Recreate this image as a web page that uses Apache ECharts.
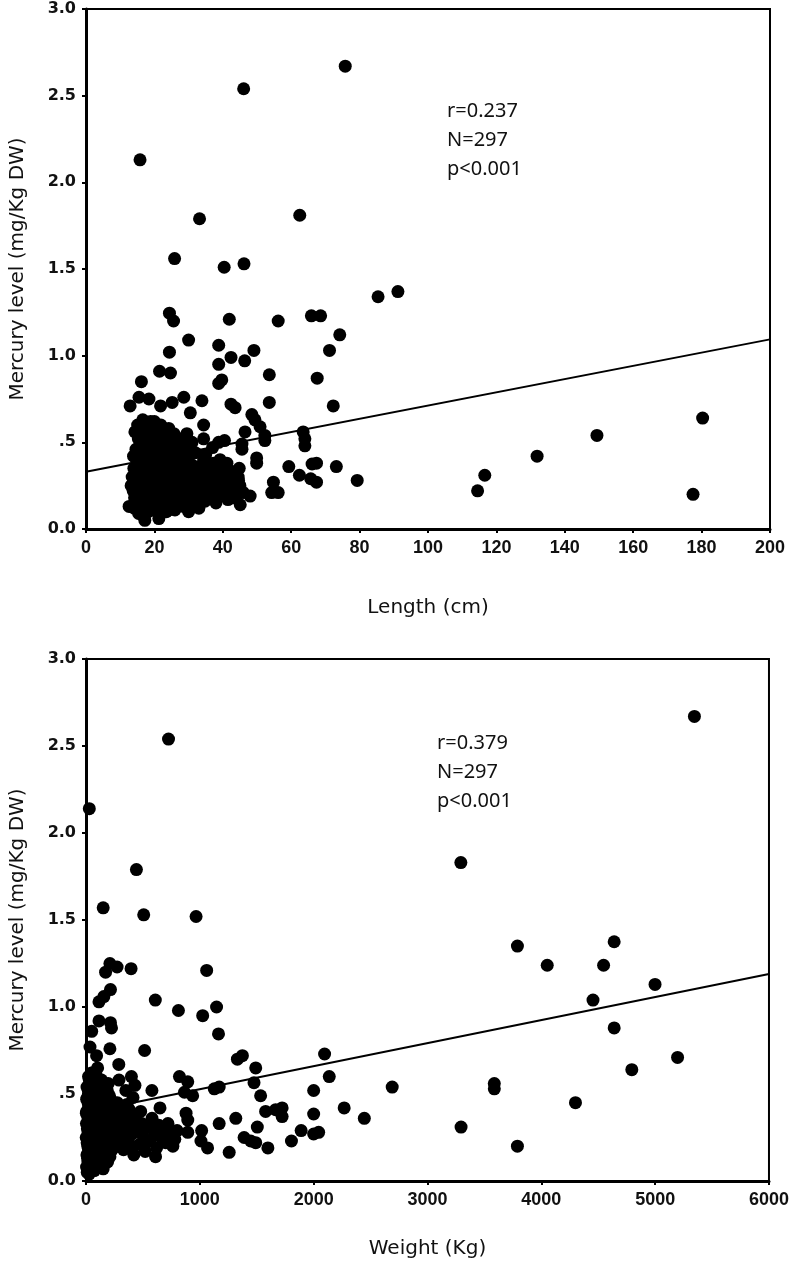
<!DOCTYPE html>
<html>
<head>
<meta charset="utf-8">
<script src="https://cdn.jsdelivr.net/npm/echarts@6/dist/echarts.min.js"></script>
<style>
html,body{margin:0;padding:0;background:#fff;}
#chart{width:792px;height:1273px;}
</style>
</head>
<body>
<div id="chart"></div>
<script>
// ---------- DATA ----------
const lengthTicks = [0, 20, 40, 60, 80, 100, 120, 140, 160, 180, 200];
const weightTicks = [0, 1000, 2000, 3000, 4000, 5000, 6000];
const hgTicks = ['0.0', '.5', '1.0', '1.5', '2.0', '2.5', '3.0'];

// Length (cm) vs Mercury (mg/Kg DW) — readable scattered points
const lengthScatter = [
  [75.8,2.67],[46.1,2.54],[15.8,2.13],[33.2,1.79],[62.5,1.81],[25.9,1.56],[40.4,1.51],[46.2,1.53],
  [24.4,1.245],[25.6,1.20],[41.9,1.21],[56.2,1.20],[65.9,1.23],[68.6,1.23],[74.2,1.12],[30.0,1.09],
  [24.4,1.02],[38.8,1.06],[42.4,0.99],[49.1,1.03],[46.4,0.97],[38.8,0.95],[71.2,1.03],[21.5,0.91],
  [24.7,0.90],[91.2,1.37],[85.4,1.34],[180.3,0.64],[149.4,0.54],[131.9,0.42],[116.6,0.31],[114.5,0.22],
  [177.5,0.20],[72.3,0.71],[73.2,0.36],[79.3,0.28],[53.6,0.89],[67.6,0.87],[16.2,0.85],[39.7,0.86],
  [38.8,0.84],[12.9,0.71],[15.5,0.76],[18.4,0.75],[21.8,0.71],[25.2,0.73],[28.6,0.76],[33.9,0.74],
  [30.5,0.67],[42.4,0.72],[43.6,0.70],[53.6,0.73],[48.5,0.66],[49.4,0.63],[50.9,0.59],[34.4,0.60],
  [46.5,0.56],[52.3,0.54],[52.3,0.51],[63.5,0.56],[64.0,0.52],[64.0,0.48],[29.5,0.55],[34.4,0.52],
  [38.8,0.50],[40.5,0.51],[45.6,0.46],[45.6,0.49],[30.0,0.47],[49.9,0.41],[49.9,0.38],[59.3,0.36],
  [66.1,0.375],[67.4,0.38],[65.7,0.29],[67.4,0.27],[62.4,0.31],[54.8,0.27],[54.3,0.21],[56.2,0.21],
  [45.1,0.14],[48.0,0.19],[46.0,0.21],[44.6,0.28],[43.6,0.31],[17.2,0.05],[21.3,0.06],[12.6,0.13],
  [24.2,0.11]
];
// Length — dense cluster (estimated)
const lengthCluster = [
  [13.5,0.30],[13.8,0.22],[14.0,0.35],[14.2,0.18],[14.5,0.27],[14.8,0.40],[15.0,0.14],[15.2,0.32],
  [15.5,0.24],[15.6,0.45],[15.8,0.55],[16.0,0.20],[16.1,0.38],[16.3,0.29],[16.5,0.50],[16.7,0.16],
  [16.9,0.34],[17.0,0.26],[17.2,0.43],[17.4,0.60],[17.5,0.12],[17.7,0.31],[17.9,0.21],[18.0,0.48],
  [18.1,0.37],[18.3,0.27],[18.5,0.56],[18.6,0.18],[18.8,0.41],[19.0,0.33],[19.1,0.24],[19.3,0.52],
  [19.5,0.14],[19.6,0.45],[19.8,0.29],[20.0,0.38],[20.1,0.20],[20.3,0.58],[20.5,0.31],[20.6,0.47],
  [20.8,0.25],[21.0,0.16],[21.1,0.42],[21.3,0.35],[21.5,0.53],[21.6,0.22],[21.8,0.30],[22.0,0.44],
  [22.2,0.12],[22.3,0.27],[22.5,0.37],[22.7,0.50],[22.9,0.19],[23.0,0.33],[23.2,0.41],[23.4,0.24],
  [23.6,0.55],[23.8,0.29],[24.0,0.15],[24.1,0.46],[24.3,0.36],[24.5,0.21],[24.7,0.52],[24.9,0.31],
  [14.1,0.12],[14.6,0.46],[15.3,0.52],[15.9,0.09],[16.4,0.42],[17.1,0.08],[17.8,0.53],[18.2,0.10],
  [18.9,0.62],[19.4,0.39],[19.9,0.11],[20.4,0.26],[20.9,0.55],[21.4,0.09],[21.9,0.60],[22.4,0.32],
  [22.8,0.15],[23.3,0.48],[23.9,0.38],[24.4,0.27],[15.1,0.60],[16.6,0.63],[17.6,0.36],[18.4,0.44],
  [19.2,0.20],[20.2,0.34],[21.2,0.28],[22.1,0.23],[23.1,0.17],[24.6,0.43],[13.9,0.42],[14.9,0.31],
  [16.2,0.25],[17.3,0.19],[18.7,0.30],[19.7,0.57],[20.7,0.40],[21.7,0.49],[22.6,0.58],[23.7,0.34],
  [25.2,0.40],[25.5,0.18],[25.8,0.28],[26.1,0.47],[26.4,0.34],[26.8,0.22],[27.0,0.14],[27.3,0.38],
  [27.6,0.30],[28.0,0.45],[28.3,0.20],[28.7,0.26],[29.0,0.35],[29.4,0.17],[29.8,0.42],[30.2,0.29],
  [30.5,0.23],[30.9,0.37],[31.3,0.15],[31.7,0.32],[32.0,0.44],[32.4,0.25],[32.8,0.19],[33.2,0.36],
  [33.6,0.28],[34.0,0.22],[34.4,0.40],[34.8,0.16],[35.2,0.31],[35.6,0.26],[36.0,0.35],[36.4,0.18],
  [36.8,0.29],[37.2,0.38],[37.6,0.22],[38.0,0.15],[38.5,0.33],[39.0,0.27],[39.5,0.20],[40.0,0.36],
  [40.5,0.24],[41.0,0.30],[41.5,0.17],[42.0,0.28],[42.5,0.22],[43.0,0.33],[43.5,0.26],[44.0,0.19],
  [44.5,0.30],[45.0,0.25],[26.0,0.11],[28.5,0.13],[31.0,0.50],[33.0,0.12],[35.0,0.43],[37.0,0.47],
  [39.2,0.40],[41.2,0.38],[27.8,0.52],[30.0,0.10],
  [14.3,0.56],[15.4,0.09],[16.8,0.47],[17.9,0.14],[19.0,0.46],[20.0,0.62],[20.6,0.13],[21.6,0.39],
  [22.9,0.43],[23.5,0.10],[24.2,0.58],[25.0,0.35],[25.7,0.55],[26.6,0.42],[27.2,0.25],[28.1,0.33],
  [29.2,0.24],[29.6,0.30],[31.5,0.27],[32.6,0.34],[33.9,0.31],[34.6,0.28],[35.8,0.21],[36.6,0.24],
  [37.9,0.30],[38.8,0.20],[40.3,0.29],[41.8,0.25],[43.2,0.18],[44.8,0.35],[13.2,0.25],[14.7,0.20],
  [16.0,0.33],[17.5,0.28],[18.6,0.36],[19.6,0.25],[20.5,0.44],[21.2,0.19],[22.3,0.53],[23.2,0.28],
  [24.8,0.19],[26.3,0.30],[28.9,0.40],[31.9,0.20]
];
const lengthFit = [[0,0.33],[200,1.094]];

// Weight (Kg) vs Mercury — readable scattered points
const weightScatter = [
  [725,2.54],[29,2.14],[443,1.79],[151,1.57],[507,1.53],[967,1.52],[5345,2.67],[3293,1.83],
  [210,1.25],[172,1.20],[273,1.23],[396,1.22],[1060,1.21],[215,1.10],[157,1.06],[114,1.03],
  [609,1.04],[812,0.98],[1025,0.95],[1147,1.00],[114,0.92],[215,0.91],[50,0.86],[224,0.88],
  [1164,0.845],[515,0.75],[35,0.77],[93,0.72],[210,0.76],[1330,0.70],[1374,0.72],[2096,0.73],
  [1491,0.65],[288,0.67],[102,0.65],[399,0.60],[821,0.60],[894,0.57],[2137,0.60],[1476,0.565],
  [1127,0.53],[1170,0.54],[2690,0.54],[579,0.52],[2000,0.52],[865,0.51],[937,0.49],[413,0.48],
  [1534,0.49],[2268,0.42],[1666,0.41],[1723,0.42],[1723,0.37],[1578,0.40],[1316,0.36],[879,0.39],
  [894,0.35],[2000,0.385],[2445,0.36],[1505,0.31],[894,0.28],[1016,0.29],[1170,0.33],[1890,0.29],
  [2000,0.27],[2044,0.28],[1805,0.23],[1389,0.25],[1447,0.23],[1491,0.22],[1598,0.19],[1010,0.23],
  [1068,0.19],[1258,0.165],[763,0.20],[611,0.14],[151,0.07],[58,0.06],[3790,1.35],[4640,1.375],
  [4052,1.24],[4547,1.24],[4999,1.13],[4454,1.04],[4640,0.88],[5197,0.71],[4795,0.64],[3587,0.56],
  [3587,0.53],[4300,0.45],[3295,0.31],[3790,0.20]
];
// Weight — dense cluster near the axis (estimated)
const weightCluster = [
  [260,0.42],[280,0.33],[300,0.25],[310,0.38],[330,0.18],[345,0.30],[360,0.44],[375,0.22],
  [390,0.34],[405,0.27],[420,0.15],[440,0.38],[455,0.29],[470,0.21],[490,0.33],[505,0.25],
  [520,0.17],[540,0.31],[560,0.23],[580,0.36],[600,0.28],[620,0.19],[640,0.32],[660,0.25],
  [680,0.30],[700,0.22],[720,0.33],[740,0.27],[780,0.24],[800,0.29],[350,0.52],[430,0.55],
  [290,0.58],[480,0.40],[650,0.42],
  [5,0.08],[8,0.15],[10,0.22],[12,0.30],[15,0.37],[18,0.45],[20,0.52],[22,0.60],[25,0.12],
  [27,0.19],[30,0.26],[32,0.34],[35,0.41],[37,0.49],[40,0.56],[42,0.10],[45,0.17],[47,0.24],
  [49,0.31],[3,0.39],[6,0.47],[9,0.54],[11,0.05],[14,0.13],[16,0.20],[19,0.28],[21,0.35],
  [24,0.43],[26,0.50],[29,0.58],[31,0.07],[34,0.14],[36,0.21],[39,0.29],[41,0.36],[44,0.44],
  [46,0.51],[48,0.62],[2,0.25],[4,0.33],[7,0.40],[13,0.48],[17,0.11],[23,0.18],[28,0.04],
  [52,0.09],[54,0.16],[56,0.23],[58,0.31],[60,0.38],[62,0.46],[64,0.53],[66,0.12],[68,0.20],
  [70,0.27],[72,0.35],[74,0.42],[76,0.50],[78,0.57],[80,0.08],[82,0.15],[84,0.22],[86,0.30],
  [88,0.37],[90,0.45],[92,0.52],[94,0.60],[96,0.11],[98,0.18],[53,0.26],[57,0.33],[61,0.41],
  [65,0.48],[69,0.55],[73,0.06],[77,0.14],[81,0.21],[85,0.28],[89,0.36],[93,0.43],[97,0.25],
  [55,0.62],[63,0.19],[79,0.32],[91,0.29],
  [102,0.10],[105,0.17],[108,0.24],[110,0.32],[113,0.39],[116,0.47],[118,0.54],[121,0.13],
  [124,0.20],[126,0.28],[129,0.35],[132,0.43],[134,0.50],[137,0.58],[140,0.09],[142,0.16],
  [145,0.23],[148,0.31],[150,0.38],[153,0.46],[156,0.53],[158,0.12],[161,0.19],[164,0.27],
  [166,0.34],[169,0.42],[103,0.36],[107,0.44],[112,0.51],[115,0.14],[120,0.21],[125,0.29],
  [130,0.26],[135,0.33],[139,0.40],[144,0.48],[149,0.15],[154,0.22],[160,0.37],[167,0.25],
  [172,0.15],[175,0.22],[178,0.30],[181,0.37],[184,0.45],[187,0.52],[190,0.11],[193,0.19],
  [196,0.26],[199,0.34],[202,0.41],[206,0.49],[210,0.14],[214,0.21],[218,0.29],[222,0.36],
  [226,0.44],[230,0.18],[234,0.25],[238,0.33],[242,0.40],[246,0.23],[250,0.31],[176,0.40],
  [185,0.27],[195,0.56],[205,0.33],[215,0.47],[228,0.28],[240,0.20],
  [255,0.36],[265,0.28],[275,0.45],[285,0.20],[295,0.38],[305,0.31],[315,0.26],[325,0.40],
  [335,0.23],[355,0.36],[365,0.28],[380,0.41],[395,0.19],[410,0.35],[425,0.30]
];
const weightFit = [[0,0.395],[6000,1.19]];

const statsLength = ['r=0.237', 'N=297', 'p<0.001'];
const statsWeight = ['r=0.379', 'N=297', 'p<0.001'];

// ---------- CHART ----------
const chart = echarts.init(document.getElementById('chart'), null, {renderer: 'canvas'});

function yAxisCfg(gridIndex) {
  return {
    gridIndex: gridIndex, type: 'value', min: 0, max: 3, interval: 0.5,
    name: 'Mercury level (mg/Kg DW)', nameLocation: 'middle', nameGap: 58,
    nameTextStyle: {fontFamily: 'DejaVu Sans', fontSize: 20, color: '#111'},
    axisLine: {show: true, lineStyle: {color: '#000', width: 3}},
    axisTick: {show: true, length: 4, lineStyle: {color: '#000', width: 2}},
    axisLabel: {
      margin: 10, fontFamily: 'DejaVu Sans', fontWeight: 'bold', fontSize: 16, color: '#111',
      formatter: v => hgTicks[Math.round(v / 0.5)]
    },
    splitLine: {show: false}
  };
}
function xAxisCfg(gridIndex, max, interval, ticks, name, gap) {
  return {
    gridIndex: gridIndex, type: 'value', min: 0, max: max, interval: interval,
    name: name, nameLocation: 'middle', nameGap: gap,
    nameTextStyle: {fontFamily: 'DejaVu Sans', fontSize: 20, color: '#111', verticalAlign: 'top'},
    axisLine: {show: true, lineStyle: {color: '#000', width: 3}},
    axisTick: {show: true, length: 4, lineStyle: {color: '#000', width: 2}},
    axisLabel: {
      margin: 10, fontFamily: 'Liberation Sans', fontWeight: 'bold', fontSize: 18, color: '#111',
      formatter: v => String(ticks[Math.round(v / interval)])
    },
    splitLine: {show: false}
  };
}

const dotStyle = {color: '#000', opacity: 1};

chart.setOption({
  animation: false,
  backgroundColor: '#fff',
  grid: [
    {left: 84, top: 9, width: 686, height: 520, show: true, borderColor: '#000', borderWidth: 2, backgroundColor: 'transparent'},
    {left: 86, top: 659, width: 687, height: 522, show: true, borderColor: '#000', borderWidth: 2, backgroundColor: 'transparent'}
  ],
  xAxis: [
    xAxisCfg(0, 200, 20, lengthTicks, 'Length (cm)', 69),
    xAxisCfg(1, 6000, 1000, weightTicks, 'Weight (Kg)', 58)
  ],
  yAxis: [yAxisCfg(0), yAxisCfg(1)],
  graphic: [
    {type: 'text', left: 447, top: 97, style: {text: statsLength.join('\n'), font: '20px "Noto Sans"', lineHeight: 29, fill: '#111'}},
    {type: 'text', left: 437, top: 729, style: {text: statsWeight.join('\n'), font: '20px "Noto Sans"', lineHeight: 29, fill: '#111'}}
  ],
  series: [
    {type: 'line', xAxisIndex: 0, yAxisIndex: 0, data: lengthFit, symbol: 'none', z: 1,
     lineStyle: {color: '#000', width: 2}},
    {type: 'scatter', xAxisIndex: 0, yAxisIndex: 0, data: lengthCluster.concat(lengthScatter),
     symbol: 'circle', symbolSize: 13, itemStyle: dotStyle, z: 2, clip: false},
    {type: 'line', xAxisIndex: 1, yAxisIndex: 1, data: weightFit, symbol: 'none', z: 1,
     lineStyle: {color: '#000', width: 2}},
    {type: 'scatter', xAxisIndex: 1, yAxisIndex: 1, data: weightCluster.concat(weightScatter),
     symbol: 'circle', symbolSize: 13, itemStyle: dotStyle, z: 2, clip: false}
  ]
});
</script>
</body>
</html>
